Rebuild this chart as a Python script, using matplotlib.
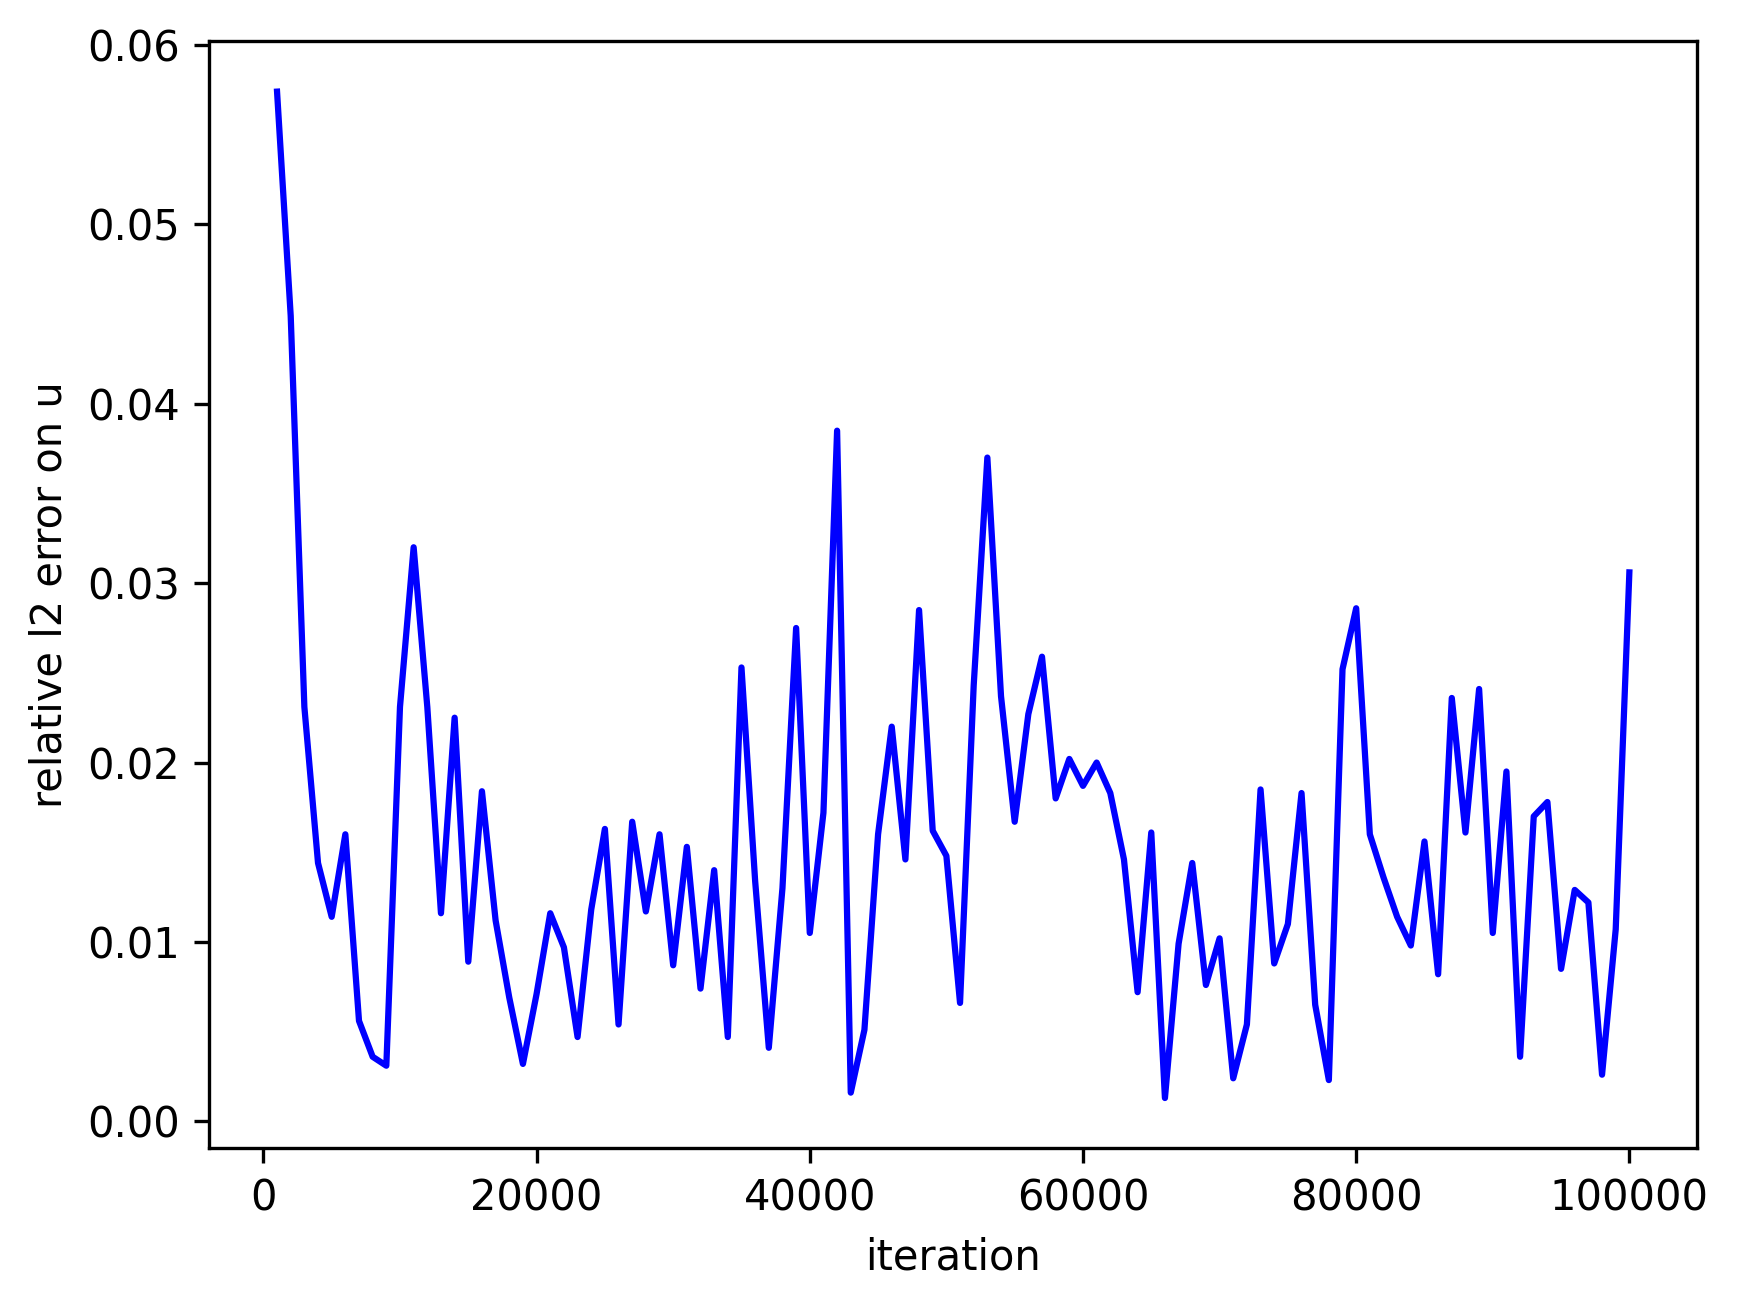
import matplotlib
matplotlib.use("Agg")
import matplotlib.pyplot as plt
import numpy as np

iterations = list(range(1000, 100001, 1000))
rel_l2_error_u = [
    0.0574, 0.0449, 0.0231, 0.0144, 0.0114, 0.0160, 0.0056, 0.0036, 0.0031, 0.0231,
    0.0320, 0.0231, 0.0116, 0.0225, 0.0089, 0.0184, 0.0112, 0.0069, 0.0032, 0.0071,
    0.0116, 0.0097, 0.0047, 0.0118, 0.0163, 0.0054, 0.0167, 0.0117, 0.0160, 0.0087,
    0.0153, 0.0074, 0.0140, 0.0047, 0.0253, 0.0134, 0.0041, 0.0130, 0.0275, 0.0105,
    0.0172, 0.0385, 0.0016, 0.0051, 0.0160, 0.0220, 0.0146, 0.0285, 0.0162, 0.0148,
    0.0066, 0.0243, 0.0370, 0.0237, 0.0167, 0.0227, 0.0259, 0.0180, 0.0202, 0.0187,
    0.0200, 0.0183, 0.0146, 0.0072, 0.0161, 0.0013, 0.0099, 0.0144, 0.0076, 0.0102,
    0.0024, 0.0054, 0.0185, 0.0088, 0.0110, 0.0183, 0.0065, 0.0023, 0.0252, 0.0286,
    0.0160, 0.0136, 0.0114, 0.0098, 0.0156, 0.0082, 0.0236, 0.0161, 0.0241, 0.0105,
    0.0195, 0.0036, 0.0170, 0.0178, 0.0085, 0.0129, 0.0122, 0.0026, 0.0107, 0.0306,
]

fig = plt.figure(figsize=(1738 / 300, 1307 / 300), dpi=300)
ax = fig.add_axes([0.1205, 0.1214, 0.8559, 0.847])
ax.plot(iterations, rel_l2_error_u, color="blue")
ax.set_xlabel("iteration")
ax.set_ylabel("relative l2 error on u")
fig.savefig("out.png", dpi=300)
